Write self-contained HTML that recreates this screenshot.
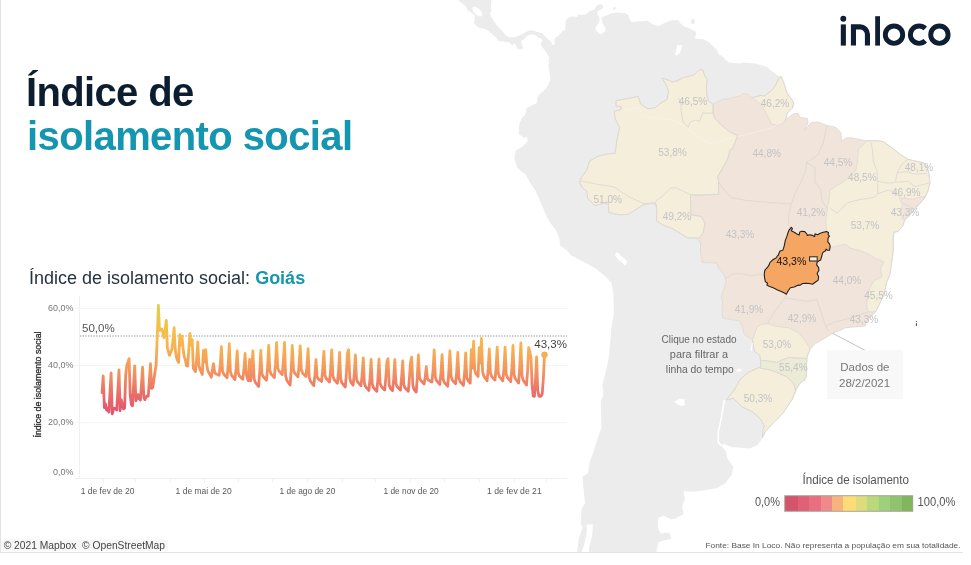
<!DOCTYPE html>
<html><head><meta charset="utf-8">
<style>
html,body{margin:0;padding:0;background:#fff;}
body{width:971px;height:565px;position:relative;overflow:hidden;font-family:"Liberation Sans",sans-serif;-webkit-font-smoothing:antialiased;}
svg,.abs{will-change:transform;}
#frame{position:absolute;left:0;top:0;width:963px;height:553px;border-left:1px solid #e3e3e3;border-bottom:1px solid #e3e3e3;box-sizing:border-box;overflow:hidden;background:#fff;}
.abs{position:absolute;white-space:nowrap;}
#t1{left:25px;top:68.5px;font-size:40px;font-weight:bold;color:#0c1d30;line-height:46px;letter-spacing:-0.65px;}
#t2{left:25.5px;top:112.5px;font-size:40px;font-weight:bold;color:#1596b0;line-height:46px;letter-spacing:-0.6px;}
#sub{left:27.5px;top:266.5px;font-size:18px;color:#27323f;line-height:22px;}
#sub b{color:#1596b0;}
</style></head>
<body>
<div id="frame">
<svg id="map" width="963" height="553" style="position:absolute;left:-1px;top:0" font-family="Liberation Sans, sans-serif">
<polygon points="458.0,0.0 491.4,0.0 490.9,6.4 491.4,10.6 489.9,13.8 492.5,19.1 496.8,25.5 502.1,30.8 505.3,35.1 509.5,37.2 514.8,37.2 520.1,35.1 525.3,32.4 529.7,30.2 533.3,30.6 537.7,31.9 542.1,33.3 546.5,37.7 551.0,41.7 552.3,44.8 554.5,44.8 554.5,38.6 558.1,35.9 562.5,31.1 565.1,29.7 565.6,24.4 565.8,20.2 567.2,18.7 571.5,16.2 577.3,16.9 577.7,14.8 585.2,14.8 589.6,11.2 594.6,9.4 596.0,6.5 598.9,4.3 601.8,4.3 603.6,6.8 601.8,9.0 597.5,11.2 597.5,14.4 598.9,16.6 599.7,19.5 601.5,19.5 601.8,17.3 606.1,15.5 611.9,13.3 617.7,12.6 625.0,13.2 628.3,14.9 629.9,19.8 631.6,21.9 637.4,21.5 647.2,20.7 649.7,21.9 653.0,24.4 658.8,26.0 664.5,23.1 669.5,21.1 672.0,20.2 678.5,20.2 681.0,23.9 684.3,26.4 690.9,28.9 695.8,31.4 695.8,34.7 695.0,38.8 703.2,39.3 708.4,41.8 713.5,46.5 717.1,50.1 718.7,54.2 721.8,55.7 725.9,59.9 729.0,62.4 740.3,63.5 742.4,62.4 754.7,63.5 760.9,65.0 767.1,67.1 772.2,71.2 777.4,75.3 779.5,76.5 781.2,76.5 783.9,83.0 786.5,91.9 790.1,97.2 793.6,102.5 792.7,107.8 787.4,113.1 785.3,120.5 789.0,117.0 793.1,113.9 797.5,113.0 800.2,117.4 807.3,118.3 808.1,122.7 804.6,130.7 810.8,122.7 817.9,121.9 826.7,125.4 835.6,127.2 840.9,132.5 841.5,141.0 846.2,137.8 853.0,138.0 865.4,140.6 876.0,140.6 883.1,141.5 891.9,147.7 900.8,154.8 907.9,159.2 915.0,161.0 923.8,162.7 927.3,167.2 929.1,174.2 930.0,183.1 928.2,190.2 925.6,196.3 922.8,200.3 919.0,204.2 913.1,211.0 909.2,215.9 905.0,219.5 902.8,225.9 898.0,231.5 894.0,232.3 893.2,238.7 893.2,251.4 891.7,262.5 890.1,273.7 886.9,281.7 885.0,290.0 880.9,301.2 875.6,311.9 868.5,318.9 865.0,326.0 854.3,326.9 845.5,327.8 840.2,330.4 833.1,333.1 824.2,338.4 815.4,343.7 810.1,349.0 807.4,356.1 806.5,365.0 806.5,375.6 804.8,380.0 800.0,383.2 797.1,388.0 792.4,399.1 782.8,413.4 771.7,424.6 765.0,432.0 762.5,437.5 762.1,438.9 757.3,445.3 749.4,448.5 739.8,447.7 731.8,446.9 723.9,444.0 721.0,445.5 726.0,451.5 727.5,458.8 733.2,466.5 731.9,474.2 725.7,482.9 717.0,487.9 697.2,491.6 683.5,491.6 684.8,499.0 682.3,506.5 683.5,513.9 674.9,518.8 671.0,519.3 663.9,515.7 658.6,517.5 657.7,526.3 660.4,533.4 669.2,532.5 671.0,538.7 663.9,540.5 658.6,542.3 655.9,553.0 589.0,553.0 588.7,549.7 589.6,545.8 592.2,535.2 593.0,524.6 587.8,524.6 582.5,528.1 580.7,522.8 581.6,508.6 585.1,503.3 583.4,487.4 582.5,476.8 587.8,473.2 589.6,462.6 593.5,452.0 597.2,439.6 601.6,427.3 600.7,400.7 603.4,395.4 602.5,384.8 606.0,370.6 608.7,358.5 610.4,340.8 611.3,328.4 614.0,312.5 613.1,291.2 611.3,282.4 608.0,279.0 603.0,274.5 595.6,268.5 583.2,261.4 570.8,255.2 567.3,250.8 560.2,245.5 559.3,238.4 556.6,231.3 551.3,224.2 546.9,217.2 542.5,206.5 535.4,190.6 529.6,182.0 526.0,175.0 517.2,167.9 514.5,158.1 515.4,151.1 522.5,146.6 527.8,141.3 526.9,136.9 524.2,137.8 518.9,134.2 518.9,125.4 521.6,118.3 525.1,114.8 526.9,107.7 536.6,103.3 538.2,95.6 546.2,88.5 550.6,79.6 549.2,70.0 548.3,66.0 549.2,63.4 548.3,60.7 549.2,58.9 548.8,56.3 546.5,52.7 543.9,49.2 541.2,45.7 540.8,43.0 542.6,40.4 541.2,38.6 538.6,37.7 535.5,35.0 531.5,34.2 527.1,35.9 523.5,39.5 520.9,41.2 521.8,44.8 523.5,48.3 522.3,48.9 520.0,49.2 517.0,48.9 515.9,44.6 513.8,43.6 512.7,45.7 509.5,42.5 503.1,41.4 498.4,40.9 496.8,38.3 492.5,34.5 488.3,30.8 484.0,28.7 479.8,28.2 476.0,25.5 473.4,22.8 474.4,21.3 475.0,15.9 471.3,12.8 467.0,9.6 466.0,6.4" fill="#ececec"/>
<ellipse cx="477.3" cy="11.6" rx="6.2" ry="3.1" transform="rotate(43 477.3 11.6)" fill="#fff"/>
<polygon points="599.9,19 601.4,19 602.5,23.1 605.4,28.1 605.4,31 600.4,34.6 596,30.3 595.3,27.4 598.9,22.4" fill="#fff"/>
<polygon points="677,45.2 681.8,45 681.5,48 680,53 676.5,56 675,54 676.5,49" fill="#fff"/>
<polygon points="613.2,7.5 615,6.8 615.9,8.5 614.5,9.7 613,9.2" fill="#ececec"/>
<polygon points="691.2,19.2 694.6,19 695,22.5 693.5,23.9 691,23.6" fill="#ececec"/>
<polygon points="615.5,253 618,252.6 621,256 625,259 627.4,262 625,265.8 621.5,262 617.5,259 615,255" fill="#fff"/>
<polygon points="736,370.5 739,368.5 742,369 741,371.5 737.5,371.8" fill="#fff"/>
<polygon points="674,401.5 680,398.7 684.5,399 684.8,405 681,406.1 677,404" fill="#fff"/>
<polyline points="724.4,400 722.3,411.8 720.7,421.4 718.3,431 718.3,442.1 721,445.5" fill="none" stroke="#fff" stroke-width="1.6"/>
<polygon points="583,527 587,526 586.5,535 584,545 581.5,553 577,553 578.5,540 581,532" fill="#ececec"/>
<polygon points="616.0,100.7 630.2,98.1 638.1,96.3 640.8,104.2 647.9,108.7 655.0,107.8 660.3,103.4 667.0,99.5 668.5,92.0 667.0,86.5 662.0,78.0 667.1,79.5 672.7,82.1 678.0,80.4 683.3,77.7 693.9,75.0 699.2,69.7 702.7,69.7 704.5,75.0 707.2,79.5 706.3,88.3 706.8,94.3 708.0,100.5 713.1,104.2 723.7,98.9 725.4,99.6 734.3,97.2 739.6,96.1 743.1,93.5 748.5,94.5 751.9,97.9 760.9,95.4 764.3,96.1 769.7,91.9 773.2,89.0 776.8,83.0 778.5,78.4 781.2,76.5 783.9,83.0 786.5,91.9 790.1,97.2 793.6,102.5 792.7,107.8 787.4,113.1 785.3,120.5 789.0,117.0 793.1,113.9 797.5,113.0 800.2,117.4 807.3,118.3 808.1,122.7 804.6,130.7 810.8,122.7 817.9,121.9 826.7,125.4 835.6,127.2 840.9,132.5 841.5,141.0 846.2,137.8 853.0,138.0 865.4,140.6 876.0,140.6 883.1,141.5 891.9,147.7 900.8,154.8 907.9,159.2 915.0,161.0 923.8,162.7 927.3,167.2 929.1,174.2 930.0,183.1 928.2,190.2 925.6,196.3 922.8,200.3 919.0,204.2 913.1,211.0 909.2,215.9 905.0,219.5 902.8,225.9 898.0,231.5 894.0,232.3 893.2,238.7 893.2,251.4 891.7,262.5 890.1,273.7 886.9,281.7 885.0,290.0 880.9,301.2 875.6,311.9 868.5,318.9 865.0,326.0 854.3,326.9 845.5,327.8 840.2,330.4 833.1,333.1 824.2,338.4 815.4,343.7 810.1,349.0 807.4,356.1 806.5,365.0 806.5,375.6 804.8,380.0 800.0,383.2 797.1,388.0 792.4,399.1 782.8,413.4 771.7,424.6 765.0,432.0 762.5,437.5 763.0,430.0 764.5,426.2 760.5,419.0 752.5,411.8 742.2,407.0 733.4,398.3 726.3,399.9 735.0,389.0 740.0,379.4 748.5,372.4 760.5,366.7 760.5,360.3 759.8,355.4 754.2,351.1 753.5,345.0 752.4,340.0 748.2,337.2 743.9,333.7 742.5,326.6 739.7,320.9 731.2,319.5 722.7,318.1 722.0,308.2 722.7,301.1 721.2,296.8 724.1,288.3 726.2,281.2 724.1,274.2 718.4,268.5 717.0,263.0 702.3,262.6 700.5,251.9 700.5,243.1 697.9,238.7 687.3,237.8 673.1,228.9 663.4,225.4 656.5,221.0 656.8,212.0 656.0,204.0 651.0,203.3 643.0,205.0 628.4,214.3 620.0,214.8 616.0,214.3 608.9,212.6 608.1,201.9 603.6,203.7 594.8,205.5 587.7,198.4 586.8,191.3 582.4,187.8 579.7,182.5 581.5,177.2 586.8,170.1 589.5,161.2 596.5,156.8 605.4,154.2 615.1,153.3 616.9,140.0 619.6,127.3 615.1,118.4 614.2,111.3 621.3,109.6 621.3,106.9 616.0,106.0" fill="#f1e4da"/>
<polygon points="616.0,100.7 630.2,98.1 638.1,96.3 640.8,104.2 647.9,108.7 655.0,107.8 660.3,103.4 667.0,99.5 668.5,92.0 667.0,86.5 662.0,78.0 667.1,79.5 672.7,82.1 678.0,80.4 683.3,77.7 693.9,75.0 699.2,69.7 702.7,69.7 704.5,75.0 707.2,79.5 706.3,88.3 706.8,94.3 708.0,100.5 713.1,104.2 713.1,113.1 714.9,118.4 721.9,125.5 730.8,132.6 737.9,135.2 732.6,148.5 730.1,150.0 727.3,160.0 717.7,176.5 718.6,181.9 718.6,194.2 700.0,195.1 690.4,194.9 690.8,214.8 701.4,216.5 705.0,223.6 703.2,232.5 699.6,237.8 687.3,237.8 673.1,228.9 663.4,225.4 656.5,221.0 656.8,212.0 656.0,204.0 651.0,203.3 643.0,205.0 628.4,214.3 620.0,214.8 616.0,214.3 608.9,212.6 608.1,201.9 603.6,203.7 594.8,205.5 587.7,198.4 586.8,191.3 582.4,187.8 579.7,182.5 581.5,177.2 586.8,170.1 589.5,161.2 596.5,156.8 605.4,154.2 615.1,153.3 616.9,140.0 619.6,127.3 615.1,118.4 614.2,111.3 621.3,109.6 621.3,106.9 616.0,106.0" fill="#f4eedb"/>
<polygon points="751.9,97.9 760.9,95.4 764.3,96.1 769.7,91.9 773.2,89.0 776.8,83.0 778.5,78.4 781.2,76.5 783.9,83.0 786.5,91.9 790.1,97.2 793.6,102.5 792.7,107.8 787.4,113.1 785.3,120.5 782.5,123.6 776.8,125.5 771.5,123.7 766.2,113.1 760.9,104.2" fill="#f4eedb"/>
<polygon points="867.2,140.6 876.0,140.6 883.1,141.5 891.9,147.7 900.8,154.8 907.9,159.2 915.0,161.0 923.8,162.7 927.3,167.2 929.1,174.2 930.0,183.1 928.2,190.2 925.6,196.3 922.8,200.3 919.0,204.2 913.1,211.0 909.2,215.9 905.0,219.5 902.8,225.9 898.0,231.5 894.0,232.3 893.2,238.7 893.2,251.4 891.7,262.5 890.1,273.7 886.9,281.7 885.0,290.0 880.9,301.2 875.6,311.9 868.5,311.9 866.7,306.5 867.6,294.2 871.2,285.3 874.0,281.0 882.1,276.9 880.5,268.9 883.7,261.8 875.7,258.6 867.8,253.8 859.8,250.6 850.3,248.2 845.5,244.2 837.5,245.8 829.6,248.2 828.9,242.0 826.5,229.6 825.7,220.8 827.4,208.4 829.0,200.0 830.0,190.2 835.3,186.6 844.2,181.3 855.7,170.7 857.4,163.6 858.3,149.5" fill="#f4eedb"/>
<polygon points="752.4,340.0 753.8,336.5 756.7,328.0 760.9,324.4 768.0,323.7 774.3,326.1 788.5,327.9 799.1,333.2 806.2,342.0 810.1,349.0 807.4,356.1 806.8,358.5 800.0,358.2 789.5,357.5 782.5,359.6 776.8,362.5 768.3,361.0 760.5,360.3 759.8,355.4 754.2,351.1 753.5,345.0" fill="#f4eedb"/>
<polygon points="760.5,360.3 768.3,361.0 776.8,362.5 782.5,359.6 789.5,357.5 800.0,358.2 806.8,358.5 806.5,365.0 806.5,375.6 804.8,380.0 800.0,383.2 797.1,388.0 795.5,390.0 793.8,383.7 786.7,376.6 776.8,372.4 768.3,369.5 759.8,368.1 760.5,366.7" fill="#ebebd7"/>
<polygon points="759.8,368.1 768.3,369.5 776.8,372.4 786.7,376.6 793.8,383.7 795.5,390.0 792.4,399.1 782.8,413.4 771.7,424.6 765.0,432.0 762.5,437.5 763.0,430.0 764.5,426.2 760.5,419.0 752.5,411.8 742.2,407.0 733.4,398.3 726.3,399.9 735.0,389.0 740.0,379.4 748.5,372.4 760.5,366.7" fill="#f4eedb"/>
<polygon points="899.5,198.0 905.3,198.4 912.1,199.3 919.0,197.4 925.6,196.3 922.8,200.3 919.0,204.2 913.1,211.0 909.2,215.9 905.0,219.5 902.4,219.3 900.9,214.0 902.4,204.2" fill="#f1e4da"/>
<polyline points="617,110.6 639.4,108 643.5,116.3 660,118.5 672.4,119.9 682.7,125 693,133.2 705.3,141.5 713.6,144.4 726,139.4 734,137.4 746.5,134.3 758.9,131.2 771.2,128.1 781.5,123" fill="none" stroke="#f8f4ea" stroke-width="1.1" opacity="0.55"/>
<polyline points="678.5,97.6 681.0,105.0 681.2,111.3 683.0,121.9 688.3,127.3 690.1,121.9 695.4,120.2 699.8,121.1 702.5,113.1 713.1,113.1 713.1,104.2" fill="none" stroke="#dbd7d2" stroke-width="0.8"/>
<polyline points="713.1,113.1 714.9,118.4 721.9,125.5 730.8,132.6 737.9,135.2 732.6,148.5 730.1,150.0 727.3,160.0 717.7,176.5 718.6,181.9 718.6,194.2 700.0,195.1 690.4,194.9 683.3,191.3 676.2,187.8 670.9,187.8 665.6,193.1 662.0,196.6 656.7,200.2 655.0,202.8" fill="none" stroke="#dbd7d2" stroke-width="0.8"/>
<polyline points="579.7,180.7 596.5,184.2 614.2,186.9 628.4,196.6 644.3,203.7 655.0,202.8 656.0,204.0" fill="none" stroke="#dbd7d2" stroke-width="0.8"/>
<polyline points="690.4,194.9 690.8,214.8 701.4,216.5 705.0,223.6 703.2,232.5 699.6,237.8" fill="none" stroke="#dbd7d2" stroke-width="0.8"/>
<polyline points="718.6,181.9 723.0,188.9 731.9,197.8 746.0,200.4 767.3,202.2 791.2,204.0" fill="none" stroke="#dbd7d2" stroke-width="0.8"/>
<polyline points="826.7,126.0 823.2,143.1 817.9,155.0 813.3,158.0 806.4,162.6 806.2,169.5 801.8,180.1 795.6,192.5 791.2,204.0 788.5,215.5 788.5,226.1 790.9,227.8" fill="none" stroke="#dbd7d2" stroke-width="0.8"/>
<polyline points="806.4,162.6 809.7,164.2 815.0,167.7 815.0,181.9 820.4,188.9 822.1,201.3 827.4,208.4" fill="none" stroke="#dbd7d2" stroke-width="0.8"/>
<polyline points="764.5,276.0 759.5,274.2 752.4,275.6 746.7,274.9 739.7,273.5 732.6,274.2 725.5,278.4" fill="none" stroke="#dbd7d2" stroke-width="0.8"/>
<polyline points="786.1,293.2 785.0,297.8 779.6,304.9 774.3,311.9 769.0,320.8 768.0,323.7" fill="none" stroke="#dbd7d2" stroke-width="0.8"/>
<polyline points="785.0,297.8 795.6,299.6 806.2,301.3 816.8,299.6 820.4,310.2 823.9,320.8 826.0,326.0 828.0,331.0" fill="none" stroke="#dbd7d2" stroke-width="0.8"/>
<polyline points="826.0,326.0 833.1,322.5 847.3,318.9 857.9,315.4 868.5,311.9" fill="none" stroke="#dbd7d2" stroke-width="0.8"/>
<polyline points="870.7,141.5 872.5,149.5 873.4,161.9 876.9,170.7 877.8,181.3 877.8,193.7" fill="none" stroke="#dbd7d2" stroke-width="0.8"/>
<polyline points="907.9,159.2 900.8,165.4 897.3,172.5 895.5,181.3" fill="none" stroke="#dbd7d2" stroke-width="0.8"/>
<polyline points="897.3,172.5 906.1,171.6 915.0,174.2 927.3,173.4" fill="none" stroke="#dbd7d2" stroke-width="0.8"/>
<polyline points="877.8,181.3 888.4,183.1 895.5,182.2 907.9,181.3 915.0,186.6 929.1,183.1" fill="none" stroke="#dbd7d2" stroke-width="0.8"/>
<polyline points="830.0,207.9 837.1,213.2 847.7,202.6 858.3,199.9 874.2,197.3 877.8,193.7 888.4,190.2 897.3,193.7 899.5,198.0" fill="none" stroke="#dbd7d2" stroke-width="0.8"/>
<polyline points="902.4,203.2 913.1,208.1" fill="none" stroke="#dbd7d2" stroke-width="0.8"/>
<polygon points="616.0,100.7 630.2,98.1 638.1,96.3 640.8,104.2 647.9,108.7 655.0,107.8 660.3,103.4 667.0,99.5 668.5,92.0 667.0,86.5 662.0,78.0 667.1,79.5 672.7,82.1 678.0,80.4 683.3,77.7 693.9,75.0 699.2,69.7 702.7,69.7 704.5,75.0 707.2,79.5 706.3,88.3 706.8,94.3 708.0,100.5 713.1,104.2 723.7,98.9 725.4,99.6 734.3,97.2 739.6,96.1 743.1,93.5 748.5,94.5 751.9,97.9 760.9,95.4 764.3,96.1 769.7,91.9 773.2,89.0 776.8,83.0 778.5,78.4 781.2,76.5 783.9,83.0 786.5,91.9 790.1,97.2 793.6,102.5 792.7,107.8 787.4,113.1 785.3,120.5 789.0,117.0 793.1,113.9 797.5,113.0 800.2,117.4 807.3,118.3 808.1,122.7 804.6,130.7 810.8,122.7 817.9,121.9 826.7,125.4 835.6,127.2 840.9,132.5 841.5,141.0 846.2,137.8 853.0,138.0 865.4,140.6 876.0,140.6 883.1,141.5 891.9,147.7 900.8,154.8 907.9,159.2 915.0,161.0 923.8,162.7 927.3,167.2 929.1,174.2 930.0,183.1 928.2,190.2 925.6,196.3 922.8,200.3 919.0,204.2 913.1,211.0 909.2,215.9 905.0,219.5 902.8,225.9 898.0,231.5 894.0,232.3 893.2,238.7 893.2,251.4 891.7,262.5 890.1,273.7 886.9,281.7 885.0,290.0 880.9,301.2 875.6,311.9 868.5,318.9 865.0,326.0 854.3,326.9 845.5,327.8 840.2,330.4 833.1,333.1 824.2,338.4 815.4,343.7 810.1,349.0 807.4,356.1 806.5,365.0 806.5,375.6 804.8,380.0 800.0,383.2 797.1,388.0 792.4,399.1 782.8,413.4 771.7,424.6 765.0,432.0 762.5,437.5 763.0,430.0 764.5,426.2 760.5,419.0 752.5,411.8 742.2,407.0 733.4,398.3 726.3,399.9 735.0,389.0 740.0,379.4 748.5,372.4 760.5,366.7 760.5,360.3 759.8,355.4 754.2,351.1 753.5,345.0 752.4,340.0 748.2,337.2 743.9,333.7 742.5,326.6 739.7,320.9 731.2,319.5 722.7,318.1 722.0,308.2 722.7,301.1 721.2,296.8 724.1,288.3 726.2,281.2 724.1,274.2 718.4,268.5 717.0,263.0 702.3,262.6 700.5,251.9 700.5,243.1 697.9,238.7 687.3,237.8 673.1,228.9 663.4,225.4 656.5,221.0 656.8,212.0 656.0,204.0 651.0,203.3 643.0,205.0 628.4,214.3 620.0,214.8 616.0,214.3 608.9,212.6 608.1,201.9 603.6,203.7 594.8,205.5 587.7,198.4 586.8,191.3 582.4,187.8 579.7,182.5 581.5,177.2 586.8,170.1 589.5,161.2 596.5,156.8 605.4,154.2 615.1,153.3 616.9,140.0 619.6,127.3 615.1,118.4 614.2,111.3 621.3,109.6 621.3,106.9 616.0,106.0" fill="none" stroke="#dbd7d2" stroke-width="0.7"/>
<polygon points="616.0,100.7 630.2,98.1 638.1,96.3 640.8,104.2 647.9,108.7 655.0,107.8 660.3,103.4 667.0,99.5 668.5,92.0 667.0,86.5 662.0,78.0 667.1,79.5 672.7,82.1 678.0,80.4 683.3,77.7 693.9,75.0 699.2,69.7 702.7,69.7 704.5,75.0 707.2,79.5 706.3,88.3 706.8,94.3 708.0,100.5 713.1,104.2 713.1,113.1 714.9,118.4 721.9,125.5 730.8,132.6 737.9,135.2 732.6,148.5 730.1,150.0 727.3,160.0 717.7,176.5 718.6,181.9 718.6,194.2 700.0,195.1 690.4,194.9 690.8,214.8 701.4,216.5 705.0,223.6 703.2,232.5 699.6,237.8 687.3,237.8 673.1,228.9 663.4,225.4 656.5,221.0 656.8,212.0 656.0,204.0 651.0,203.3 643.0,205.0 628.4,214.3 620.0,214.8 616.0,214.3 608.9,212.6 608.1,201.9 603.6,203.7 594.8,205.5 587.7,198.4 586.8,191.3 582.4,187.8 579.7,182.5 581.5,177.2 586.8,170.1 589.5,161.2 596.5,156.8 605.4,154.2 615.1,153.3 616.9,140.0 619.6,127.3 615.1,118.4 614.2,111.3 621.3,109.6 621.3,106.9 616.0,106.0" fill="none" stroke="#dbd7d2" stroke-width="0.7"/>
<polygon points="751.9,97.9 760.9,95.4 764.3,96.1 769.7,91.9 773.2,89.0 776.8,83.0 778.5,78.4 781.2,76.5 783.9,83.0 786.5,91.9 790.1,97.2 793.6,102.5 792.7,107.8 787.4,113.1 785.3,120.5 782.5,123.6 776.8,125.5 771.5,123.7 766.2,113.1 760.9,104.2" fill="none" stroke="#dbd7d2" stroke-width="0.7"/>
<polygon points="867.2,140.6 876.0,140.6 883.1,141.5 891.9,147.7 900.8,154.8 907.9,159.2 915.0,161.0 923.8,162.7 927.3,167.2 929.1,174.2 930.0,183.1 928.2,190.2 925.6,196.3 922.8,200.3 919.0,204.2 913.1,211.0 909.2,215.9 905.0,219.5 902.8,225.9 898.0,231.5 894.0,232.3 893.2,238.7 893.2,251.4 891.7,262.5 890.1,273.7 886.9,281.7 885.0,290.0 880.9,301.2 875.6,311.9 868.5,311.9 866.7,306.5 867.6,294.2 871.2,285.3 874.0,281.0 882.1,276.9 880.5,268.9 883.7,261.8 875.7,258.6 867.8,253.8 859.8,250.6 850.3,248.2 845.5,244.2 837.5,245.8 829.6,248.2 828.9,242.0 826.5,229.6 825.7,220.8 827.4,208.4 829.0,200.0 830.0,190.2 835.3,186.6 844.2,181.3 855.7,170.7 857.4,163.6 858.3,149.5" fill="none" stroke="#dbd7d2" stroke-width="0.7"/>
<polygon points="752.4,340.0 753.8,336.5 756.7,328.0 760.9,324.4 768.0,323.7 774.3,326.1 788.5,327.9 799.1,333.2 806.2,342.0 810.1,349.0 807.4,356.1 806.8,358.5 800.0,358.2 789.5,357.5 782.5,359.6 776.8,362.5 768.3,361.0 760.5,360.3 759.8,355.4 754.2,351.1 753.5,345.0" fill="none" stroke="#dbd7d2" stroke-width="0.7"/>
<polygon points="760.5,360.3 768.3,361.0 776.8,362.5 782.5,359.6 789.5,357.5 800.0,358.2 806.8,358.5 806.5,365.0 806.5,375.6 804.8,380.0 800.0,383.2 797.1,388.0 795.5,390.0 793.8,383.7 786.7,376.6 776.8,372.4 768.3,369.5 759.8,368.1 760.5,366.7" fill="none" stroke="#dbd7d2" stroke-width="0.7"/>
<polygon points="759.8,368.1 768.3,369.5 776.8,372.4 786.7,376.6 793.8,383.7 795.5,390.0 792.4,399.1 782.8,413.4 771.7,424.6 765.0,432.0 762.5,437.5 763.0,430.0 764.5,426.2 760.5,419.0 752.5,411.8 742.2,407.0 733.4,398.3 726.3,399.9 735.0,389.0 740.0,379.4 748.5,372.4 760.5,366.7" fill="none" stroke="#dbd7d2" stroke-width="0.7"/>
<polygon points="899.5,198.0 905.3,198.4 912.1,199.3 919.0,197.4 925.6,196.3 922.8,200.3 919.0,204.2 913.1,211.0 909.2,215.9 905.0,219.5 902.4,219.3 900.9,214.0 902.4,204.2" fill="none" stroke="#dbd7d2" stroke-width="0.7"/>
<polyline points="752.3,343 751.6,347 751.3,351" fill="none" stroke="#fff" stroke-width="1"/>
<polygon points="791.3,227.3 792.4,228.7 791.3,230.8 794.2,232.3 797.0,234.0 799.1,235.1 799.8,231.9 801.9,231.2 804.8,231.6 806.9,234.0 807.2,235.4 809.7,234.7 812.6,235.4 814.7,236.5 815.0,233.7 817.5,234.7 820.3,233.3 823.2,232.3 826.4,231.6 828.5,232.6 828.1,234.7 829.5,236.2 828.1,237.9 827.8,241.8 829.5,243.9 830.2,246.1 829.5,250.3 827.4,250.3 826.0,249.2 825.3,251.0 823.9,251.7 822.5,253.1 821.8,256.0 821.0,258.8 820.6,260.0 818.6,261.1 817.1,262.2 816.7,264.9 818.6,267.6 819.0,270.2 817.1,273.6 818.6,276.7 818.2,280.1 815.6,282.0 812.5,284.3 809.5,283.5 805.7,283.2 802.6,283.5 800.3,285.1 797.3,285.4 794.2,287.0 790.4,287.7 788.2,290.8 786.3,294.2 784.4,293.1 781.3,291.5 777.5,290.0 773.7,288.1 769.1,286.2 766.8,285.1 767.6,283.2 765.3,281.6 764.6,277.8 764.2,274.0 764.9,270.2 767.6,267.2 769.1,264.9 769.9,262.6 772.2,260.3 774.5,258.8 776.0,258.0 777.5,255.8 778.3,255.0 780.0,251.0 782.8,250.3 784.2,246.1 785.3,240.4 786.7,236.9 787.8,233.3 789.2,229.8" fill="#f4a662" stroke="#222" stroke-width="1.1" stroke-linejoin="round"/>
<rect x="809.6" y="256.8" width="7.6" height="4.2" fill="#f6f0e0" stroke="#222" stroke-width="1"/>
<text x="678.7" y="104.5" font-size="10" fill="#c3c3c6" textLength="28.6" lengthAdjust="spacingAndGlyphs">46,5%</text>
<text x="760.7" y="106.5" font-size="10" fill="#c3c3c6" textLength="28.6" lengthAdjust="spacingAndGlyphs">46,2%</text>
<text x="658.2" y="156.1" font-size="10" fill="#c3c3c6" textLength="28.6" lengthAdjust="spacingAndGlyphs">53,8%</text>
<text x="752.4" y="156.5" font-size="10" fill="#c3c3c6" textLength="28.6" lengthAdjust="spacingAndGlyphs">44,8%</text>
<text x="823.7" y="165.5" font-size="10" fill="#c3c3c6" textLength="28.6" lengthAdjust="spacingAndGlyphs">44,5%</text>
<text x="904.7" y="170.6" font-size="10" fill="#c3c3c6" textLength="28.6" lengthAdjust="spacingAndGlyphs">48,1%</text>
<text x="848.1" y="180.7" font-size="10" fill="#c3c3c6" textLength="28.6" lengthAdjust="spacingAndGlyphs">48,5%</text>
<text x="593.4" y="202.5" font-size="10" fill="#c3c3c6" textLength="28.6" lengthAdjust="spacingAndGlyphs">51,0%</text>
<text x="891.9" y="196.1" font-size="10" fill="#c3c3c6" textLength="28.6" lengthAdjust="spacingAndGlyphs">46,9%</text>
<text x="662.7" y="219.5" font-size="10" fill="#c3c3c6" textLength="28.6" lengthAdjust="spacingAndGlyphs">49,2%</text>
<text x="796.7" y="215.5" font-size="10" fill="#c3c3c6" textLength="28.6" lengthAdjust="spacingAndGlyphs">41,2%</text>
<text x="890.7" y="215.5" font-size="10" fill="#c3c3c6" textLength="28.6" lengthAdjust="spacingAndGlyphs">43,3%</text>
<text x="850.7" y="228.5" font-size="10" fill="#c3c3c6" textLength="28.6" lengthAdjust="spacingAndGlyphs">53,7%</text>
<text x="725.7" y="237.5" font-size="10" fill="#c3c3c6" textLength="28.6" lengthAdjust="spacingAndGlyphs">43,3%</text>
<text x="832.7" y="283.7" font-size="10" fill="#c3c3c6" textLength="28.6" lengthAdjust="spacingAndGlyphs">44,0%</text>
<text x="864.2" y="298.6" font-size="10" fill="#c3c3c6" textLength="28.6" lengthAdjust="spacingAndGlyphs">45,5%</text>
<text x="734.7" y="313.0" font-size="10" fill="#c3c3c6" textLength="28.6" lengthAdjust="spacingAndGlyphs">41,9%</text>
<text x="787.7" y="321.8" font-size="10" fill="#c3c3c6" textLength="28.6" lengthAdjust="spacingAndGlyphs">42,9%</text>
<text x="849.7" y="322.7" font-size="10" fill="#c3c3c6" textLength="28.6" lengthAdjust="spacingAndGlyphs">43,3%</text>
<text x="762.7" y="348.0" font-size="10" fill="#c3c3c6" textLength="28.6" lengthAdjust="spacingAndGlyphs">53,0%</text>
<text x="779.1" y="371.1" font-size="10" fill="#c3c3c6" textLength="28.6" lengthAdjust="spacingAndGlyphs">55,4%</text>
<text x="743.7" y="401.9" font-size="10" fill="#c3c3c6" textLength="28.6" lengthAdjust="spacingAndGlyphs">50,3%</text>
<text x="791.4" y="265" font-size="10.5" fill="#111" text-anchor="middle">43,3%</text>
</svg>
<svg id="chart" width="600" height="553" style="position:absolute;left:-1px;top:0" font-family="Liberation Sans, sans-serif">
<defs>
<linearGradient id="lg" gradientUnits="userSpaceOnUse" x1="0" y1="305" x2="0" y2="413">
<stop offset="0" stop-color="#dcd04a"/>
<stop offset="0.14" stop-color="#ecc648"/>
<stop offset="0.28" stop-color="#f6bd4c"/>
<stop offset="0.42" stop-color="#f7ae52"/>
<stop offset="0.56" stop-color="#f59b5a"/>
<stop offset="0.70" stop-color="#f08463"/>
<stop offset="0.84" stop-color="#ea6b69"/>
<stop offset="1" stop-color="#e2546e"/>
</linearGradient>
</defs>
<g shape-rendering="crispEdges">
<line x1="75" y1="308" x2="567" y2="308" stroke="#f4f4f4" stroke-width="1"/>
<line x1="75" y1="365" x2="567" y2="365" stroke="#f4f4f4" stroke-width="1"/>
<line x1="75" y1="422" x2="567" y2="422" stroke="#f4f4f4" stroke-width="1"/>
<line x1="79.5" y1="296" x2="79.5" y2="479" stroke="#f0f0f0" stroke-width="1"/>
<line x1="75" y1="478.5" x2="567" y2="478.5" stroke="#f0f0f0" stroke-width="1"/>
</g>
<g stroke="#f1f1f1" stroke-width="1" shape-rendering="crispEdges">
<line x1="103.5" y1="479" x2="103.5" y2="483"/><line x1="135.5" y1="479" x2="135.5" y2="483"/><line x1="170.5" y1="479" x2="170.5" y2="483"/><line x1="204.5" y1="479" x2="204.5" y2="483"/><line x1="238.5" y1="479" x2="238.5" y2="483"/><line x1="272.5" y1="479" x2="272.5" y2="483"/><line x1="307.5" y1="479" x2="307.5" y2="483"/><line x1="342.5" y1="479" x2="342.5" y2="483"/><line x1="375.5" y1="479" x2="375.5" y2="483"/><line x1="410.5" y1="479" x2="410.5" y2="483"/><line x1="444.5" y1="479" x2="444.5" y2="483"/><line x1="479.5" y1="479" x2="479.5" y2="483"/><line x1="514.5" y1="479" x2="514.5" y2="483"/><line x1="546.5" y1="479" x2="546.5" y2="483"/>
</g>
<line x1="80" y1="336" x2="567" y2="336" stroke="#b4b4b4" stroke-width="1.3" stroke-dasharray="1.3 1.4"/>
<text x="82" y="331.5" font-size="11.5" fill="#555">50,0%</text>
<g font-size="9" fill="#777" text-anchor="end">
<text x="73.5" y="310.5">60,0%</text>
<text x="73.5" y="367.5">40,0%</text>
<text x="73.5" y="424.5">20,0%</text>
<text x="73.5" y="474.5">0,0%</text>
</g>
<text transform="translate(41,384.5) rotate(-90)" font-size="8.8" font-weight="normal" fill="#222" stroke="#222" stroke-width="0.25" text-anchor="middle" textLength="106" lengthAdjust="spacingAndGlyphs">Índice de isolamento social</text>
<g font-size="9" fill="#575757">
<text x="80.8" y="494" textLength="53.6" lengthAdjust="spacingAndGlyphs">1 de fev de 20</text>
<text x="175.6" y="494" textLength="56.1" lengthAdjust="spacingAndGlyphs">1 de mai de 20</text>
<text x="279.6" y="494" textLength="55.7" lengthAdjust="spacingAndGlyphs">1 de ago de 20</text>
<text x="383.5" y="494" textLength="55.2" lengthAdjust="spacingAndGlyphs">1 de nov de 20</text>
<text x="487" y="494" textLength="54.7" lengthAdjust="spacingAndGlyphs">1 de fev de 21</text>
</g>
<polyline points="102.1,392.7 103.2,376.0 104.4,407.6 105.5,403.9 106.6,410.0 107.7,409.0 108.9,412.0 110.0,392.0 111.1,372.9 112.2,413.8 113.4,409.5 114.5,408.2 115.6,409.0 116.7,410.0 117.9,390.0 119.0,369.8 120.1,410.7 121.2,399.6 122.4,405.0 123.5,408.9 124.6,408.0 125.7,375.0 126.9,364.9 128.0,362.0 129.1,358.7 130.2,395.0 131.4,404.5 132.5,405.8 133.6,385.0 134.7,365.9 135.9,400.8 137.0,397.0 138.1,394.6 139.2,399.0 140.4,400.0 141.5,384.0 142.6,367.1 143.8,397.0 144.9,399.6 146.0,397.0 147.1,395.8 148.3,396.0 149.4,380.0 150.5,363.6 151.6,388.4 152.8,387.2 153.9,379.4 155.0,372.0 156.1,365.0 157.3,335.0 158.4,305.5 159.5,330.5 160.6,330.0 161.8,329.0 162.9,333.0 164.0,337.6 165.1,330.0 166.3,320.5 167.4,348.2 168.5,352.0 169.6,355.3 170.8,352.0 171.9,349.6 173.0,340.0 174.1,327.6 175.3,350.0 176.4,357.0 177.5,360.2 178.6,362.4 179.8,334.7 180.9,345.0 182.0,336.1 183.2,350.0 184.3,356.7 185.4,360.0 186.5,365.9 187.7,366.0 188.8,350.0 189.9,333.3 191.0,345.0 192.2,339.7 193.3,368.0 194.4,370.0 195.5,371.6 196.7,358.0 197.8,341.8 198.9,365.0 200.0,369.4 201.2,372.0 202.3,374.4 203.4,350.3 204.5,362.0 205.7,349.6 206.8,365.0 207.9,370.9 209.0,373.0 210.2,375.0 211.3,377.2 212.4,370.0 213.5,363.6 214.7,372.6 215.8,373.8 216.9,374.3 218.0,374.7 219.2,375.2 220.3,364.4 221.4,346.7 222.5,370.9 223.7,374.0 224.8,375.2 225.9,376.5 227.1,377.7 228.2,364.7 229.3,343.6 230.4,371.7 231.6,375.3 232.7,376.7 233.8,378.2 234.9,379.6 236.1,368.7 237.2,350.8 238.3,373.0 239.4,375.9 240.6,377.0 241.7,378.2 242.8,379.3 243.9,369.5 245.1,353.5 246.2,374.0 247.3,378.0 248.4,380.8 249.6,359.5 250.7,380.8 251.8,370.0 252.9,351.0 254.1,378.6 255.2,382.2 256.3,383.6 257.4,385.0 258.6,386.4 259.7,372.7 260.8,350.4 261.9,373.6 263.1,376.6 264.2,377.8 265.3,379.0 266.5,380.2 267.6,367.0 268.7,345.5 269.8,370.6 271.0,373.8 272.1,375.1 273.2,376.4 274.3,377.7 275.5,364.4 276.6,342.6 277.7,367.6 278.8,370.8 280.0,372.0 281.1,373.3 282.2,374.6 283.3,362.4 284.5,342.4 285.6,375.7 286.7,380.0 287.8,381.7 289.0,383.4 290.1,385.1 291.2,370.1 292.3,345.5 293.5,369.9 294.6,373.0 295.7,374.3 296.8,375.5 298.0,376.8 299.1,365.1 300.2,345.9 301.3,369.8 302.5,372.8 303.6,374.1 304.7,375.3 305.9,376.5 307.0,365.9 308.1,348.6 309.2,377.4 310.4,381.1 311.5,382.5 312.6,384.0 313.7,385.5 314.9,375.7 316.0,359.7 317.1,376.6 318.2,378.8 319.4,379.7 320.5,380.5 321.6,381.4 322.7,370.0 323.9,351.3 325.0,375.2 326.1,378.3 327.2,379.5 328.4,380.8 329.5,382.0 330.6,369.8 331.7,349.8 332.9,375.9 334.0,379.3 335.1,380.6 336.2,382.0 337.4,383.3 338.5,371.5 339.6,352.3 340.7,379.4 341.9,382.8 343.0,384.2 344.1,385.6 345.3,387.0 346.4,372.9 347.5,353.0 348.6,349.8 349.8,378.0 350.9,382.3 352.0,383.7 353.1,385.1 354.3,373.6 355.4,354.8 356.5,378.9 357.6,382.0 358.8,383.2 359.9,384.5 361.0,385.7 362.1,375.1 363.3,357.9 364.4,383.2 365.5,386.5 366.6,387.8 367.8,389.1 368.9,390.4 370.0,378.7 371.1,359.5 372.3,384.3 373.4,387.5 374.5,388.8 375.6,390.0 376.8,391.3 377.9,379.1 379.0,359.1 380.1,383.3 381.3,386.4 382.4,387.6 383.5,388.9 384.7,390.1 385.8,378.2 386.9,362.0 388.0,358.7 389.2,385.0 390.3,388.1 391.4,389.4 392.5,390.7 393.7,378.9 394.8,359.7 395.9,383.4 397.0,386.5 398.2,387.7 399.3,388.9 400.4,390.1 401.5,379.0 402.7,361.0 403.8,384.6 404.9,387.7 406.0,388.9 407.2,390.1 408.3,391.3 409.4,378.3 410.5,362.0 411.7,357.2 412.8,385.0 413.9,389.2 415.0,390.6 416.2,392.0 417.3,377.9 418.4,354.8 419.5,377.5 420.7,380.4 421.8,381.6 422.9,382.7 424.1,383.9 425.2,377.3 426.3,366.6 427.4,378.6 428.6,380.2 429.7,380.8 430.8,381.4 431.9,382.0 433.1,369.8 434.2,350.0 435.3,376.9 436.4,380.4 437.6,381.7 438.7,383.1 439.8,384.5 440.9,373.2 442.1,354.7 443.2,379.3 444.3,382.4 445.4,383.7 446.6,384.9 447.7,386.2 448.8,372.7 449.9,350.8 451.1,376.5 452.2,379.8 453.3,381.1 454.4,382.4 455.6,383.7 456.7,371.8 457.8,352.5 458.9,378.2 460.1,381.5 461.2,382.8 462.3,384.1 463.4,385.4 464.6,373.0 465.7,352.8 466.8,377.4 468.0,380.6 469.1,381.9 470.2,383.1 471.3,349.7 472.5,368.0 473.6,341.2 474.7,369.9 475.8,373.6 477.0,375.1 478.1,376.5 479.2,347.6 480.3,363.0 481.5,338.4 482.6,371.5 483.7,375.7 484.8,377.4 486.0,379.1 487.1,380.8 488.2,368.7 489.3,349.0 490.5,373.3 491.6,376.4 492.7,377.6 493.8,378.9 495.0,380.1 496.1,367.6 497.2,347.2 498.3,373.4 499.5,376.8 500.6,378.1 501.7,379.5 502.8,380.8 504.0,368.0 505.1,347.2 506.2,374.0 507.4,377.5 508.5,378.8 509.6,380.2 510.7,381.6 511.9,367.9 513.0,345.5 514.1,374.8 515.2,378.5 516.4,380.0 517.5,381.5 518.6,383.0 519.7,367.8 520.9,342.9 522.0,375.8 523.1,380.0 524.2,381.7 525.4,383.4 526.5,385.1 527.6,370.9 528.7,347.6 529.9,352.0 531.0,358.0 532.1,385.0 533.2,396.0 534.4,396.4 535.5,380.0 536.6,356.8 537.7,390.0 538.9,396.0 540.0,396.4 541.1,396.0 542.2,394.0 543.4,378.0 544.5,354.7" fill="none" stroke="url(#lg)" stroke-width="2.8" stroke-linejoin="round" stroke-linecap="round"/>
<circle cx="544.5" cy="354.7" r="3.2" fill="#f7ae52"/>
<text x="534.3" y="347.5" font-size="11.5" fill="#444">43,3%</text>
</svg>

<svg id="ovl" width="963" height="553" style="position:absolute;left:-1px;top:0" font-family="Liberation Sans, sans-serif">
<!-- inloco logo -->
<g fill="#0e1e33">
<circle cx="843.3" cy="18.7" r="2.95"/>
<rect x="840.8" y="24.4" width="5.1" height="21.2"/>
<rect x="875.2" y="16.2" width="4.8" height="29.4"/>
</g>
<path d="M853.45 45.6 V26.9 H860 A7.45 7.45 0 0 1 867.45 34.35 V45.6" fill="none" stroke="#0e1e33" stroke-width="5.1"/>
<circle cx="894" cy="34.7" r="8.7" fill="none" stroke="#0e1e33" stroke-width="4.9"/>
<path d="M925.25 28.55 A8.7 8.7 0 1 0 925.25 40.85" fill="none" stroke="#0e1e33" stroke-width="4.9"/>
<circle cx="939.4" cy="34.7" r="8.7" fill="none" stroke="#0e1e33" stroke-width="4.9"/>
<!-- click text -->
<g font-size="10" fill="#666" text-anchor="middle">
<text x="699" y="342.5">Clique no estado</text>
<text x="699" y="357.7" textLength="58.4" lengthAdjust="spacingAndGlyphs">para filtrar a</text>
<text x="699.8" y="372.8" textLength="67.9" lengthAdjust="spacingAndGlyphs">linha do tempo</text>
</g>
<!-- annotation -->
<line x1="833" y1="333.5" x2="865" y2="350.3" stroke="#bcbcbc" stroke-width="0.9"/>
<rect x="827" y="350.2" width="76" height="48.7" fill="#f8f8f8"/>
<g font-size="11.5" fill="#777" text-anchor="middle">
<text x="864.9" y="370.8">Dados de</text>
<text x="864.6" y="387">28/2/2021</text>
</g>
<rect x="915.9" y="321" width="1.1" height="1" fill="#666"/><rect x="915.9" y="323.2" width="1.1" height="2.8" fill="#555"/>
<!-- legend -->
<text x="802.5" y="483.8" font-size="12" fill="#555" textLength="106.5" lengthAdjust="spacingAndGlyphs">Índice de isolamento</text>
<text x="754.9" y="506.3" font-size="12" fill="#555" textLength="25" lengthAdjust="spacingAndGlyphs">0,0%</text>
<text x="917.6" y="506.3" font-size="12" fill="#555" textLength="37.9" lengthAdjust="spacingAndGlyphs">100,0%</text>
<g shape-rendering="crispEdges">
<rect x="785" y="496" width="12.8" height="15" fill="#d4546b"/>
<rect x="797.8" y="496" width="10.7" height="15" fill="#de6176"/>
<rect x="808.5" y="496" width="12.1" height="15" fill="#e86e80"/>
<rect x="820.6" y="496" width="11.7" height="15" fill="#f08a88"/>
<rect x="832.3" y="496" width="11.1" height="15" fill="#f5b47e"/>
<rect x="843.4" y="496" width="12.1" height="15" fill="#fddc78"/>
<rect x="855.5" y="496" width="11.5" height="15" fill="#dcdc7c"/>
<rect x="867" y="496" width="11.5" height="15" fill="#b9d97c"/>
<rect x="878.5" y="496" width="11.8" height="15" fill="#9dd07a"/>
<rect x="890.3" y="496" width="12" height="15" fill="#8fc36e"/>
<rect x="902.3" y="496" width="10.2" height="15" fill="#82b65c"/>
</g>
<rect x="784.7" y="495.7" width="128" height="15.6" fill="none" stroke="#a8a298" stroke-width="1"/>
<text x="960.5" y="547.5" font-size="8" fill="#555" text-anchor="end" textLength="255" lengthAdjust="spacingAndGlyphs">Fonte: Base In Loco. Não representa a população em sua totalidade.</text>
<!-- mapbox attribution -->
<rect x="2" y="539.3" width="166" height="11.6" fill="#f6f6f6" opacity="0.9"/>
<text x="3.7" y="548.9" font-size="11.3" fill="#444" textLength="161.3" lengthAdjust="spacingAndGlyphs">© 2021 Mapbox&#160;&#160;© OpenStreetMap</text>
</svg>
<div class="abs" id="t1">Índice de</div>
<div class="abs" id="t2">isolamento social</div>
<div class="abs" id="sub">Índice de isolamento social: <b>Goiás</b></div>
</div>
</body></html>
